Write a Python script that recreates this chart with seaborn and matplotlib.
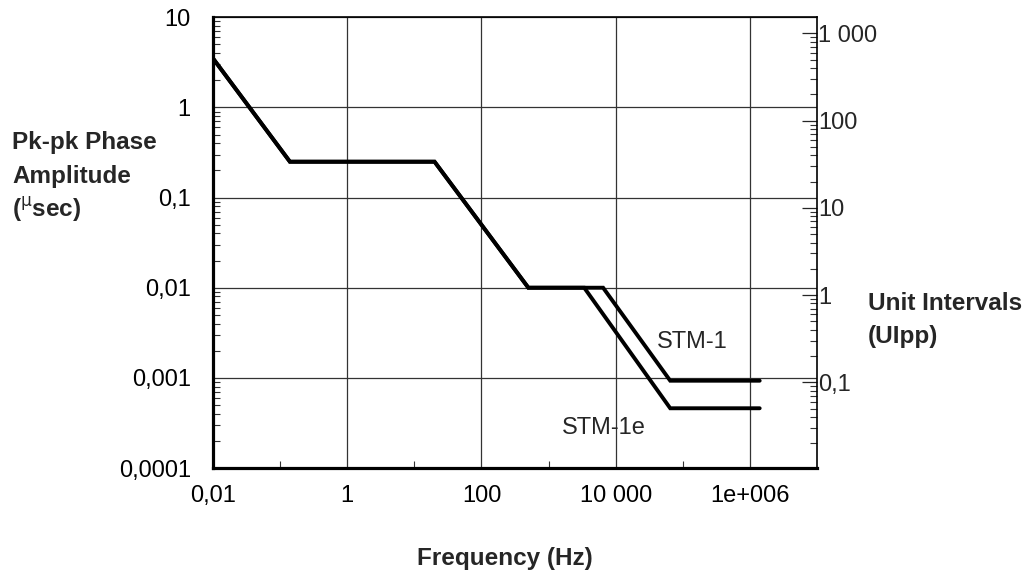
import pandas as pd
import seaborn as sns
import matplotlib.pyplot as plt
import numpy as np
from matplotlib.ticker import FixedLocator, LogLocator, NullFormatter

freq_stm1 = [0.01, 0.14, 20, 500, 6500, 65000, 1.4e6]
amp_stm1 = [3.5, 0.25, 0.25, 0.01, 0.01, 0.00093, 0.00093]
freq_stm1e = [0.01, 0.14, 20, 500, 3400, 65000, 1.4e6]
amp_stm1e = [3.5, 0.25, 0.25, 0.01, 0.01, 0.00046, 0.00046]

x_ticks = [0.01, 1, 100, 1e4, 1e6]
x_labels = ["0,01", "1", "100", "10 000", "1e+006"]
y_ticks = [1e-4, 1e-3, 1e-2, 1e-1, 1, 10]
y_labels = ["0,0001", "0,001", "0,01", "0,1", "1", "10"]
ui_ticks = [0.1, 1, 10, 100, 1000]
ui_labels = ["0,1", "1", "10", "100", "1 000"]

df = pd.concat([
    pd.DataFrame({"freq": freq_stm1, "amp": amp_stm1, "mask": "STM-1"}),
    pd.DataFrame({"freq": freq_stm1e, "amp": amp_stm1e, "mask": "STM-1e"}),
], ignore_index=True)

sns.set_style("white")
plt.rcParams['font.family'] = ['Liberation Sans', 'DejaVu Sans']

fig = plt.figure(figsize=(10.33, 5.77), dpi=100)
ax = fig.add_axes([0.2062, 0.1889, 0.5847, 0.7811])

sns.lineplot(data=df, x="freq", y="amp", hue="mask", palette=["black", "black"],
             estimator=None, sort=False, linewidth=2.8, legend=False, ax=ax,
             solid_joinstyle="miter", zorder=5)

ax.set_xscale("log")
ax.set_yscale("log")
ax.set_xlim(0.01, 1e7)
ax.set_ylim(1e-4, 10)

ax.xaxis.set_major_locator(FixedLocator(x_ticks))
ax.set_xticklabels(x_labels)
ax.xaxis.set_minor_locator(FixedLocator([0.1, 10, 1000, 1e5]))
ax.xaxis.set_minor_formatter(NullFormatter())
ax.yaxis.set_major_locator(FixedLocator(y_ticks))
ax.set_yticklabels(y_labels)
ax.yaxis.set_minor_locator(LogLocator(base=10, subs=np.arange(2, 10)))
ax.yaxis.set_minor_formatter(NullFormatter())

ax.grid(True, which="major", color="#333333", linewidth=0.9)
ax.tick_params(which="major", direction="in", length=0, labelsize=17, colors="black")
ax.tick_params(axis="x", which="major", pad=12)
ax.tick_params(axis="y", which="major", pad=16)
ax.tick_params(which="minor", direction="in", length=5, width=0.8, color="#333333")
ax.tick_params(axis="y", which="minor", left=True, right=False)
ax.tick_params(axis="x", which="minor", bottom=True, top=False)

for side in ["left", "bottom"]:
    ax.spines[side].set_linewidth(2.3)
    ax.spines[side].set_color("black")
ax.spines["top"].set_linewidth(1.2)
ax.spines["top"].set_color("black")
ax.spines["right"].set_visible(False)
ax.set_xlabel("")
ax.set_ylabel("")

# right axis in unit intervals
ax2 = ax.twinx()
ax2.set_yscale("log")
ax2.set_ylim(0.0104, 1526)
ax2.yaxis.set_major_locator(FixedLocator(ui_ticks))
ax2.set_yticklabels(ui_labels)
ax2.yaxis.set_minor_locator(LogLocator(base=10, subs=np.arange(2, 10)))
ax2.yaxis.set_minor_formatter(NullFormatter())
ax2.tick_params(which="major", direction="in", length=11, width=0.9, labelsize=17, pad=1)
ax2.tick_params(which="minor", direction="in", length=5, width=0.8, color="#333333")
for side in ["left", "top", "bottom"]:
    ax2.spines[side].set_visible(False)
ax2.spines["right"].set_linewidth(1.2)
ax2.spines["right"].set_color("black")

ax.text(1.4e5, 0.0025, "STM-1", fontsize=17, ha="center", va="center")
ax.text(6700, 0.00028, "STM-1e", fontsize=17, ha="center", va="center")

fig.text(12 / 1033, 1 - 142 / 577, "Pk-pk Phase", fontsize=17.5, fontweight="bold", va="center")
fig.text(12 / 1033, 1 - 176 / 577, "Amplitude", fontsize=17.5, fontweight="bold", va="center")
fig.text(12 / 1033, 1 - 210 / 577, r"($^{\mathrm{\mu}}$sec)", fontsize=17.5, fontweight="bold", va="center")
fig.text(868 / 1033, 1 - 303 / 577, "Unit Intervals", fontsize=17.5, fontweight="bold", va="center")
fig.text(868 / 1033, 1 - 337 / 577, "(UIpp)", fontsize=17.5, fontweight="bold", va="center")
fig.text(505 / 1033, 1 - 558 / 577, "Frequency (Hz)", fontsize=17.5, fontweight="bold",
         ha="center", va="center")

fig.savefig("out.png", dpi=100)
